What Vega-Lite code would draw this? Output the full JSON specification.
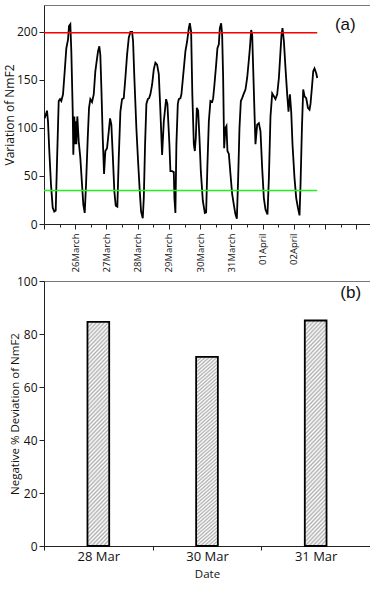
{
  "$schema": "https://vega.github.io/schema/vega-lite/v6.json",
  "padding": {"left": 2, "top": 4, "right": 2, "bottom": 2},
  "background": "white",
  "config": {
    "font": "Open Sans",
    "view": {"stroke": "#777", "strokeWidth": 1},
    "axis": {"grid": false, "domainColor": "#222", "tickColor": "#222", "labelColor": "#111", "titleColor": "#111", "labelFont": "Open Sans", "titleFont": "Open Sans", "titleFontWeight": "normal", "labelFontSize": 12, "domainWidth": 1, "tickWidth": 1}
  },
  "spacing": 57,
  "bounds": "flush",
  "vconcat": [
    {
      "width": 326,
      "height": 219,
      "resolve": {"axis": {"x": "independent"}},
      "layer": [
        {
          "data": {"values": [
            {"d":0.022,"v":110},{"d":0.096,"v":118},{"d":0.128,"v":107},{"d":0.170,"v":76},{"d":0.224,"v":41},{"d":0.279,"v":17},{"d":0.330,"v":13},{"d":0.375,"v":14},{"d":0.417,"v":65},{"d":0.471,"v":128},{"d":0.513,"v":130},{"d":0.554,"v":128},{"d":0.609,"v":135},{"d":0.663,"v":159},{"d":0.715,"v":183},{"d":0.769,"v":192},{"d":0.801,"v":206},{"d":0.843,"v":208},{"d":0.875,"v":180},{"d":0.920,"v":117},{"d":0.939,"v":72},{"d":0.971,"v":112},{"d":0.994,"v":83},{"d":1.016,"v":107},{"d":1.035,"v":83},{"d":1.067,"v":112},{"d":1.112,"v":86},{"d":1.163,"v":69},{"d":1.218,"v":41},{"d":1.260,"v":20},{"d":1.304,"v":11.5},{"d":1.346,"v":41},{"d":1.401,"v":90},{"d":1.442,"v":121},{"d":1.484,"v":130},{"d":1.538,"v":127},{"d":1.593,"v":135},{"d":1.644,"v":159},{"d":1.689,"v":170},{"d":1.731,"v":180},{"d":1.772,"v":185},{"d":1.804,"v":176},{"d":1.837,"v":142},{"d":1.881,"v":90},{"d":1.923,"v":52},{"d":1.965,"v":76},{"d":2.019,"v":79},{"d":2.074,"v":96.5},{"d":2.115,"v":110},{"d":2.157,"v":103.5},{"d":2.202,"v":72},{"d":2.253,"v":34},{"d":2.298,"v":19},{"d":2.349,"v":18},{"d":2.394,"v":69},{"d":2.446,"v":117},{"d":2.500,"v":130},{"d":2.554,"v":131},{"d":2.606,"v":152},{"d":2.660,"v":176},{"d":2.715,"v":194},{"d":2.766,"v":200},{"d":2.821,"v":200},{"d":2.853,"v":190},{"d":2.894,"v":152},{"d":2.958,"v":100},{"d":3.013,"v":65},{"d":3.067,"v":34},{"d":3.109,"v":13},{"d":3.163,"v":6},{"d":3.196,"v":27},{"d":3.237,"v":83},{"d":3.279,"v":125},{"d":3.324,"v":130},{"d":3.365,"v":131},{"d":3.407,"v":135},{"d":3.462,"v":145},{"d":3.516,"v":161},{"d":3.567,"v":168},{"d":3.622,"v":166},{"d":3.676,"v":156},{"d":3.728,"v":117},{"d":3.782,"v":72},{"d":3.837,"v":107},{"d":3.910,"v":130},{"d":3.952,"v":125},{"d":4.016,"v":83},{"d":4.048,"v":55},{"d":4.103,"v":55},{"d":4.157,"v":54},{"d":4.176,"v":27},{"d":4.208,"v":11.5},{"d":4.240,"v":83},{"d":4.285,"v":125},{"d":4.317,"v":130},{"d":4.369,"v":131},{"d":4.401,"v":135},{"d":4.478,"v":162},{"d":4.529,"v":180},{"d":4.583,"v":190},{"d":4.638,"v":204},{"d":4.670,"v":209},{"d":4.712,"v":200},{"d":4.750,"v":135},{"d":4.798,"v":83},{"d":4.830,"v":76},{"d":4.862,"v":90},{"d":4.894,"v":121},{"d":4.936,"v":118},{"d":4.978,"v":90},{"d":5.022,"v":55},{"d":5.087,"v":24},{"d":5.151,"v":11.5},{"d":5.192,"v":12},{"d":5.234,"v":62},{"d":5.279,"v":107},{"d":5.330,"v":128},{"d":5.385,"v":127},{"d":5.417,"v":131},{"d":5.458,"v":145},{"d":5.513,"v":166},{"d":5.554,"v":183},{"d":5.599,"v":187},{"d":5.631,"v":204},{"d":5.673,"v":209},{"d":5.705,"v":197},{"d":5.737,"v":152},{"d":5.769,"v":79},{"d":5.811,"v":100},{"d":5.843,"v":102},{"d":5.875,"v":76},{"d":5.920,"v":73},{"d":5.971,"v":52},{"d":6.026,"v":31},{"d":6.080,"v":20},{"d":6.131,"v":10},{"d":6.176,"v":5.6},{"d":6.218,"v":48},{"d":6.260,"v":100},{"d":6.304,"v":128},{"d":6.346,"v":131},{"d":6.401,"v":136},{"d":6.452,"v":140},{"d":6.506,"v":152},{"d":6.561,"v":171},{"d":6.593,"v":183},{"d":6.635,"v":202},{"d":6.667,"v":197},{"d":6.699,"v":162},{"d":6.740,"v":117},{"d":6.772,"v":83},{"d":6.827,"v":103.5},{"d":6.881,"v":105},{"d":6.933,"v":96.5},{"d":6.987,"v":58},{"d":7.041,"v":27},{"d":7.093,"v":15},{"d":7.157,"v":10},{"d":7.202,"v":48},{"d":7.253,"v":112},{"d":7.308,"v":136},{"d":7.362,"v":133},{"d":7.413,"v":130},{"d":7.468,"v":135},{"d":7.522,"v":152},{"d":7.574,"v":180},{"d":7.606,"v":197},{"d":7.638,"v":204},{"d":7.683,"v":190},{"d":7.734,"v":162},{"d":7.788,"v":135},{"d":7.830,"v":117},{"d":7.875,"v":135},{"d":7.917,"v":117},{"d":7.958,"v":83},{"d":8.022,"v":48},{"d":8.077,"v":27},{"d":8.131,"v":17},{"d":8.183,"v":9},{"d":8.215,"v":41},{"d":8.260,"v":100},{"d":8.301,"v":140},{"d":8.343,"v":133},{"d":8.397,"v":131},{"d":8.452,"v":121},{"d":8.503,"v":119},{"d":8.535,"v":125},{"d":8.580,"v":142},{"d":8.622,"v":159},{"d":8.663,"v":162},{"d":8.718,"v":157},{"d":8.750,"v":152}
          ]},
          "mark": {"type": "line", "color": "black", "strokeWidth": 1.8},
          "encoding": {
            "x": {"field": "d", "type": "quantitative",
              "scale": {"domain": [0, 10.44], "nice": false, "zero": false},
              "axis": {"title": null, "orient": "bottom", "values": [0,1,2,3,4,5,6,7,8,9,10],
                "labelExpr": "(datum.value >= 1 && datum.value <= 8) ? ['','26March','27March','28March','29March','30March','31March','01April','02April'][datum.value] : ''",
                "labelAngle": -90, "labelFontSize": 9.5, "labelPadding": 4, "labelFlush": false, "labelOverlap": false,
                "tickSize": 5}},
            "y": {"field": "v", "type": "quantitative",
              "scale": {"domain": [0, 228], "nice": false},
              "axis": {"title": "Variation of NmF2", "titleFontSize": 12, "titleX": -35, "titleBaseline": "middle",
                "values": [0,25,50,75,100,125,150,175,200,225],
                "labelExpr": "datum.value % 50 === 0 ? datum.label : ''", "labelPadding": 2, "labelFlush": false, "labelOverlap": false,
                "tickSize": {"condition": {"test": "datum.value % 50 !== 0", "value": 3}, "value": 5}}}
          }
        },
        {
          "data": {"values": [
            {"level": "max", "y": 199, "x0": 0, "x1": 8.75},
            {"level": "min", "y": 35, "x0": 0, "x1": 8.75}
          ]},
          "mark": {"type": "rule", "strokeWidth": 1.5},
          "encoding": {
            "x": {"field": "x0", "type": "quantitative",
              "axis": {"title": null, "orient": "bottom", "values": [0.5,1.5,2.5,3.5,4.5,5.5,6.5,7.5,8.5,9.5,10.5], "labels": false, "domain": false, "tickSize": 3}},
            "x2": {"field": "x1"},
            "y": {"field": "y", "type": "quantitative"},
            "color": {"field": "level", "type": "nominal", "scale": {"domain": ["max", "min"], "range": ["#ff0000", "#22ee22"]}, "legend": null}
          }
        },
        {
          "data": {"values": [{"label": "(a)", "d": 9.65, "v": 207}]},
          "mark": {"type": "text", "font": "Liberation Sans", "fontSize": 17, "align": "center", "baseline": "middle", "color": "#111"},
          "encoding": {
            "x": {"field": "d", "type": "quantitative", "axis": null},
            "y": {"field": "v", "type": "quantitative"},
            "text": {"field": "label"}
          }
        }
      ]
    },
    {
      "width": 326,
      "height": 265,
      "layer": [
        {
          "data": {"values": [
            {"date": "28 Mar", "dev": 84.6},
            {"date": "30 Mar", "dev": 71.4},
            {"date": "31 Mar", "dev": 85.1}
          ]},
          "mark": {"type": "bar", "stroke": "black", "strokeWidth": 1.8, "width": {"band": 0.2},
            "fill": {"gradient": "linear", "x1": 0, "y1": 0, "x2": 0.11, "y2": 1.09, "stops": [
              {"offset":0,"color":"#fff"},{"offset":0.0083,"color":"#b0b0b0"},{"offset":0.0167,"color":"#fff"},{"offset":0.025,"color":"#b0b0b0"},{"offset":0.0333,"color":"#fff"},{"offset":0.0417,"color":"#b0b0b0"},{"offset":0.05,"color":"#fff"},{"offset":0.0583,"color":"#b0b0b0"},{"offset":0.0667,"color":"#fff"},{"offset":0.075,"color":"#b0b0b0"},{"offset":0.0833,"color":"#fff"},{"offset":0.0917,"color":"#b0b0b0"},
              {"offset":0.1,"color":"#fff"},{"offset":0.1083,"color":"#b0b0b0"},{"offset":0.1167,"color":"#fff"},{"offset":0.125,"color":"#b0b0b0"},{"offset":0.1333,"color":"#fff"},{"offset":0.1417,"color":"#b0b0b0"},{"offset":0.15,"color":"#fff"},{"offset":0.1583,"color":"#b0b0b0"},{"offset":0.1667,"color":"#fff"},{"offset":0.175,"color":"#b0b0b0"},{"offset":0.1833,"color":"#fff"},{"offset":0.1917,"color":"#b0b0b0"},
              {"offset":0.2,"color":"#fff"},{"offset":0.2083,"color":"#b0b0b0"},{"offset":0.2167,"color":"#fff"},{"offset":0.225,"color":"#b0b0b0"},{"offset":0.2333,"color":"#fff"},{"offset":0.2417,"color":"#b0b0b0"},{"offset":0.25,"color":"#fff"},{"offset":0.2583,"color":"#b0b0b0"},{"offset":0.2667,"color":"#fff"},{"offset":0.275,"color":"#b0b0b0"},{"offset":0.2833,"color":"#fff"},{"offset":0.2917,"color":"#b0b0b0"},
              {"offset":0.3,"color":"#fff"},{"offset":0.3083,"color":"#b0b0b0"},{"offset":0.3167,"color":"#fff"},{"offset":0.325,"color":"#b0b0b0"},{"offset":0.3333,"color":"#fff"},{"offset":0.3417,"color":"#b0b0b0"},{"offset":0.35,"color":"#fff"},{"offset":0.3583,"color":"#b0b0b0"},{"offset":0.3667,"color":"#fff"},{"offset":0.375,"color":"#b0b0b0"},{"offset":0.3833,"color":"#fff"},{"offset":0.3917,"color":"#b0b0b0"},
              {"offset":0.4,"color":"#fff"},{"offset":0.4083,"color":"#b0b0b0"},{"offset":0.4167,"color":"#fff"},{"offset":0.425,"color":"#b0b0b0"},{"offset":0.4333,"color":"#fff"},{"offset":0.4417,"color":"#b0b0b0"},{"offset":0.45,"color":"#fff"},{"offset":0.4583,"color":"#b0b0b0"},{"offset":0.4667,"color":"#fff"},{"offset":0.475,"color":"#b0b0b0"},{"offset":0.4833,"color":"#fff"},{"offset":0.4917,"color":"#b0b0b0"},
              {"offset":0.5,"color":"#fff"},{"offset":0.5083,"color":"#b0b0b0"},{"offset":0.5167,"color":"#fff"},{"offset":0.525,"color":"#b0b0b0"},{"offset":0.5333,"color":"#fff"},{"offset":0.5417,"color":"#b0b0b0"},{"offset":0.55,"color":"#fff"},{"offset":0.5583,"color":"#b0b0b0"},{"offset":0.5667,"color":"#fff"},{"offset":0.575,"color":"#b0b0b0"},{"offset":0.5833,"color":"#fff"},{"offset":0.5917,"color":"#b0b0b0"},
              {"offset":0.6,"color":"#fff"},{"offset":0.6083,"color":"#b0b0b0"},{"offset":0.6167,"color":"#fff"},{"offset":0.625,"color":"#b0b0b0"},{"offset":0.6333,"color":"#fff"},{"offset":0.6417,"color":"#b0b0b0"},{"offset":0.65,"color":"#fff"},{"offset":0.6583,"color":"#b0b0b0"},{"offset":0.6667,"color":"#fff"},{"offset":0.675,"color":"#b0b0b0"},{"offset":0.6833,"color":"#fff"},{"offset":0.6917,"color":"#b0b0b0"},
              {"offset":0.7,"color":"#fff"},{"offset":0.7083,"color":"#b0b0b0"},{"offset":0.7167,"color":"#fff"},{"offset":0.725,"color":"#b0b0b0"},{"offset":0.7333,"color":"#fff"},{"offset":0.7417,"color":"#b0b0b0"},{"offset":0.75,"color":"#fff"},{"offset":0.7583,"color":"#b0b0b0"},{"offset":0.7667,"color":"#fff"},{"offset":0.775,"color":"#b0b0b0"},{"offset":0.7833,"color":"#fff"},{"offset":0.7917,"color":"#b0b0b0"},
              {"offset":0.8,"color":"#fff"},{"offset":0.8083,"color":"#b0b0b0"},{"offset":0.8167,"color":"#fff"},{"offset":0.825,"color":"#b0b0b0"},{"offset":0.8333,"color":"#fff"},{"offset":0.8417,"color":"#b0b0b0"},{"offset":0.85,"color":"#fff"},{"offset":0.8583,"color":"#b0b0b0"},{"offset":0.8667,"color":"#fff"},{"offset":0.875,"color":"#b0b0b0"},{"offset":0.8833,"color":"#fff"},{"offset":0.8917,"color":"#b0b0b0"},
              {"offset":0.9,"color":"#fff"},{"offset":0.9083,"color":"#b0b0b0"},{"offset":0.9167,"color":"#fff"},{"offset":0.925,"color":"#b0b0b0"},{"offset":0.9333,"color":"#fff"},{"offset":0.9417,"color":"#b0b0b0"},{"offset":0.95,"color":"#fff"},{"offset":0.9583,"color":"#b0b0b0"},{"offset":0.9667,"color":"#fff"},{"offset":0.975,"color":"#b0b0b0"},{"offset":0.9833,"color":"#fff"},{"offset":0.9917,"color":"#b0b0b0"},
              {"offset":1,"color":"#fff"}
            ]}},
          "encoding": {
            "x": {"field": "date", "type": "nominal",
              "scale": {"paddingInner": 0, "paddingOuter": 0},
              "axis": {"title": "Date", "labelAngle": 0, "labelFontSize": 13, "tickBand": "extent", "tickSize": 4, "labelPadding": 0, "titleFontSize": 11.5, "titlePadding": 5}},
            "y": {"field": "dev", "type": "quantitative",
              "scale": {"domain": [0, 100], "nice": false},
              "axis": {"title": "Negative % Deviation of NmF2", "titleFontSize": 11.5, "titleX": -29, "titleBaseline": "middle",
                "values": [0,10,20,30,40,50,60,70,80,90,100],
                "labelExpr": "datum.value % 20 === 0 ? datum.label : ''", "labelPadding": 2, "labelFlush": false, "labelOverlap": false,
                "tickSize": {"condition": {"test": "datum.value % 20 !== 0", "value": 3}, "value": 5}}}
          }
        },
        {
          "data": {"values": [{"label": "(b)", "date": "31 Mar", "dev": 95.5}]},
          "mark": {"type": "text", "font": "Liberation Sans", "fontSize": 17, "align": "center", "baseline": "middle", "dx": 35, "color": "#111"},
          "encoding": {
            "x": {"field": "date", "type": "nominal"},
            "y": {"field": "dev", "type": "quantitative"},
            "text": {"field": "label"}
          }
        }
      ]
    }
  ]
}
